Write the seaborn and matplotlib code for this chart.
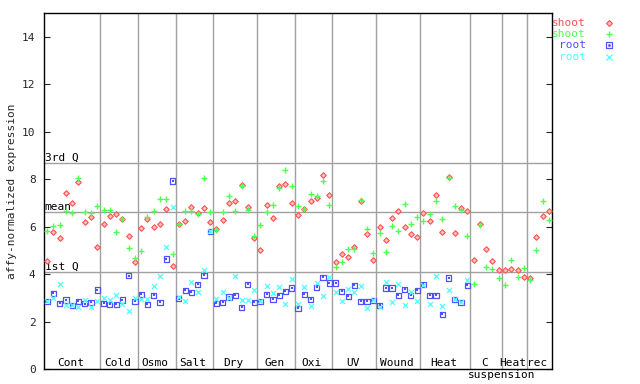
import numpy as np
import pandas as pd
import matplotlib
matplotlib.use("Agg")
import matplotlib.pyplot as plt
import seaborn as sns

# ---------------- data ----------------
group_names = ["Cont", "Cold", "Osmo", "Salt", "Dry", "Gen", "Oxi", "UV",
               "Wound", "Heat", "C\nsuspension", "Heat", "rec"]
group_sizes = [9, 6, 6, 6, 7, 6, 6, 7, 7, 8, 5, 4, 4]

shoot_1 = [4.54, 5.79, 5.52, 7.44, 7.00, 7.87, 6.21, 6.41, 5.15,
           6.13, 6.47, 6.55, 6.34, 5.61, 4.51,
           5.95, 6.33, 5.99, 6.12, 6.75, 4.34,
           6.12, 6.24, 6.85, 6.59, 6.79, 6.20,
           5.90, 6.28, 7.00, 7.09, 7.76, 6.83, 5.52,
           5.02, 6.92, 6.37, 7.72, 7.80, 7.00,
           6.50, 6.75, 7.09, 7.21, 8.18, 7.34,
           4.51, 4.85, 4.72, 5.15, 7.09, 5.69, 4.60,
           5.99, 5.44, 6.37, 6.66, 5.99, 5.69, 5.57,
           6.58, 6.24, 7.34, 5.78, 8.10, 5.74, 6.79, 6.66,
           4.60, 6.12, 5.06, 4.55, 4.17,
           4.17, 4.22, 4.17, 3.88,
           3.84, 5.57, 6.45, 6.66]

shoot_2 = [5.83, 6.04, 6.07, 6.65, 6.59, 8.07, 6.62, 6.59, 6.89,
           6.72, 6.72, 5.79, 6.34, 5.12, 4.68,
           4.99, 6.41, 6.66, 7.17, 7.17, 4.85,
           6.12, 6.66, 6.66, 6.54, 8.06, 6.62,
           5.86, 6.62, 7.31, 6.66, 7.72, 6.71, 5.61,
           6.07, 6.62, 6.92, 7.63, 8.39, 7.72,
           6.87, 6.75, 7.38, 7.30, 7.93, 6.92,
           4.30, 4.51, 5.06, 5.06, 7.13, 5.90, 4.89,
           5.74, 4.93, 6.03, 5.82, 6.96, 6.12, 6.41,
           6.24, 6.54, 7.09, 6.33, 8.06, 6.87, 6.71, 5.61,
           3.58, 6.07, 4.30, 4.22, 3.84,
           3.54, 4.60, 3.88, 4.26,
           3.75, 5.02, 7.09, 6.28]

root_1 = [2.85, 3.20, 2.78, 2.92, 2.70, 2.87, 2.77, 2.82, 3.34,
          2.78, 2.74, 2.74, 2.92, 3.94, 2.87,
          3.16, 2.74, 3.12, 2.82, 4.64, 7.93,
          2.98, 3.33, 3.25, 3.58, 3.96, 5.79,
          2.78, 2.82, 3.04, 3.12, 2.61, 3.58, 2.82,
          2.87, 3.16, 2.95, 3.12, 3.29, 3.42,
          2.57, 3.16, 2.95, 3.46, 3.88, 3.63,
          3.63, 3.29, 3.08, 3.54, 2.87, 2.87, 2.91,
          2.70, 3.42, 3.42, 3.12, 3.37, 3.12, 3.33,
          3.58, 3.12, 3.12, 2.32, 3.84, 2.95, 2.82, 3.54]

root_2 = [2.88, 3.02, 3.58, 2.70, 2.72, 2.61, 2.92, 2.61, 2.88,
          3.02, 2.91, 3.12, 2.74, 2.44, 2.99,
          2.95, 2.95, 3.50, 3.92, 5.15, 6.83,
          3.04, 2.87, 3.67, 3.25, 4.19, 5.83,
          2.95, 3.25, 2.99, 3.92, 2.91, 2.91, 3.33,
          2.87, 3.50, 3.20, 3.46, 2.74, 3.79,
          2.74, 3.46, 2.66, 3.63, 3.08, 3.88,
          3.25, 2.87, 3.37, 3.25, 3.50, 2.57, 2.91,
          2.61, 3.67, 2.82, 3.58, 2.70, 3.25, 2.87,
          3.54, 2.74, 3.92, 2.66, 3.33, 2.95, 2.82, 3.75]

ref_lines = [8.68, 6.61, 4.08]
ref_labels = ["3rd Q", "mean", "1st Q"]
series_labels = ["shoot", "shoot", "root", "root"]
y_ticks = [0, 2, 4, 6, 8, 10, 12, 14]

# ---------------- styling ----------------
sns.set_style("white")
plt.rcParams["font.family"] = ["DejaVu Sans Mono", "DejaVu Sans"]
FS = 8
RED, GREEN, BLUE, CYAN = "#ff5050", "#50ff50", "#5050ff", "#50ffff"
GRID = "#a0a0a0"

fig = plt.figure(figsize=(6.4, 3.84), dpi=100)
ax = fig.add_axes([44 / 640, 1 - 369.3 / 384, (552 - 44) / 640, (369.3 - 13) / 384])

n_shoot = len(shoot_1)
n_root = len(root_1)
xs = np.arange(1, n_shoot + 1)
xr = np.arange(1, n_root + 1)

# grid / reference lines
bounds = np.cumsum(group_sizes)[:-1] + 0.5
for b in bounds:
    ax.axvline(b, color=GRID, lw=1.0, zorder=1)
for v, lab in zip(ref_lines, ref_labels):
    ax.axhline(v, color=GRID, lw=1.0, zorder=1)
    ax.annotate(lab, xy=(0.5, v), xytext=(0.5, 0.5), textcoords="offset points",
                ha="left", va="bottom", fontsize=FS, color="black")

lw = 0.8
sns.scatterplot(x=xs, y=shoot_1, marker="D", s=8, color="#ffc0c0",
                edgecolor=RED, linewidth=lw, ax=ax, zorder=3)
sns.scatterplot(x=xs, y=shoot_2, marker="+", s=20, color=GREEN,
                linewidth=1.0, ax=ax, zorder=3)
sns.scatterplot(x=xr, y=root_1, marker="s", s=14, facecolor="none",
                edgecolor=BLUE, linewidth=0.9, ax=ax, zorder=3)
sns.scatterplot(x=xr, y=root_1, marker="s", s=0.8, color=BLUE,
                linewidth=0, ax=ax, zorder=3)
sns.scatterplot(x=xr, y=root_2, marker="x", s=13, color=CYAN,
                linewidth=0.9, ax=ax, zorder=3)

ax.set_xlim(0.5, n_shoot + 0.5)
ax.set_ylim(0, 15)
ax.set_xticks([])
ax.set_yticks(y_ticks)
ax.set_yticklabels([str(t) for t in y_ticks], fontsize=FS)
ax.tick_params(axis="y", which="both", direction="in", length=4.3, width=0.8,
               left=True, right=True, labelleft=True, labelright=False, pad=6)
for sp in ax.spines.values():
    sp.set_color("black")
    sp.set_linewidth(1.0)
ax.set_ylabel("affy-normalized expression", fontsize=FS, labelpad=4)
ax.set_xlabel("")

# group labels
starts = np.concatenate([[0], np.cumsum(group_sizes)[:-1]])
for name, st, n in zip(group_names, starts, group_sizes):
    cx = st + n / 2 + 0.5 - 0.3
    lines = name.split("\n")
    for k, line in enumerate(lines):
        ax.annotate(line, xy=(cx if k == 0 else st + n + 0.5, 0), xytext=(0, 2.5 - 9 * k),
                    textcoords="offset points", ha="center", va="baseline",
                    fontsize=FS, color="black", annotation_clip=False)

# legend (text right-aligned, marker on the right)
leg_y = [23.3, 34.3, 45.3, 56.7]
leg_cols = [RED, GREEN, BLUE, CYAN]
leg_marks = [dict(marker="D", ms=3.0, mfc="#ffc0c0", mec=RED, mew=lw),
             dict(marker="+", ms=4.5, mec=GREEN, mew=1.0),
             dict(marker="s", ms=3.8, mfc="none", mec=BLUE, mew=0.9),
             dict(marker="x", ms=3.7, mec=CYAN, mew=0.9)]
for y, lab, col, mk in zip(leg_y, series_labels, leg_cols, leg_marks):
    fy = 1 - y / 384
    fig.text(586 / 640, fy, lab, ha="right", va="center", fontsize=FS, color=col)
    fig.add_artist(plt.Line2D([609 / 640], [fy], transform=fig.transFigure,
                              linestyle="none", **mk))
fig.add_artist(plt.Line2D([609 / 640], [1 - leg_y[2] / 384], transform=fig.transFigure,
                          linestyle="none", marker="s", ms=0.9, mfc=BLUE, mec=BLUE))

fig.savefig("out.png", dpi=100)
